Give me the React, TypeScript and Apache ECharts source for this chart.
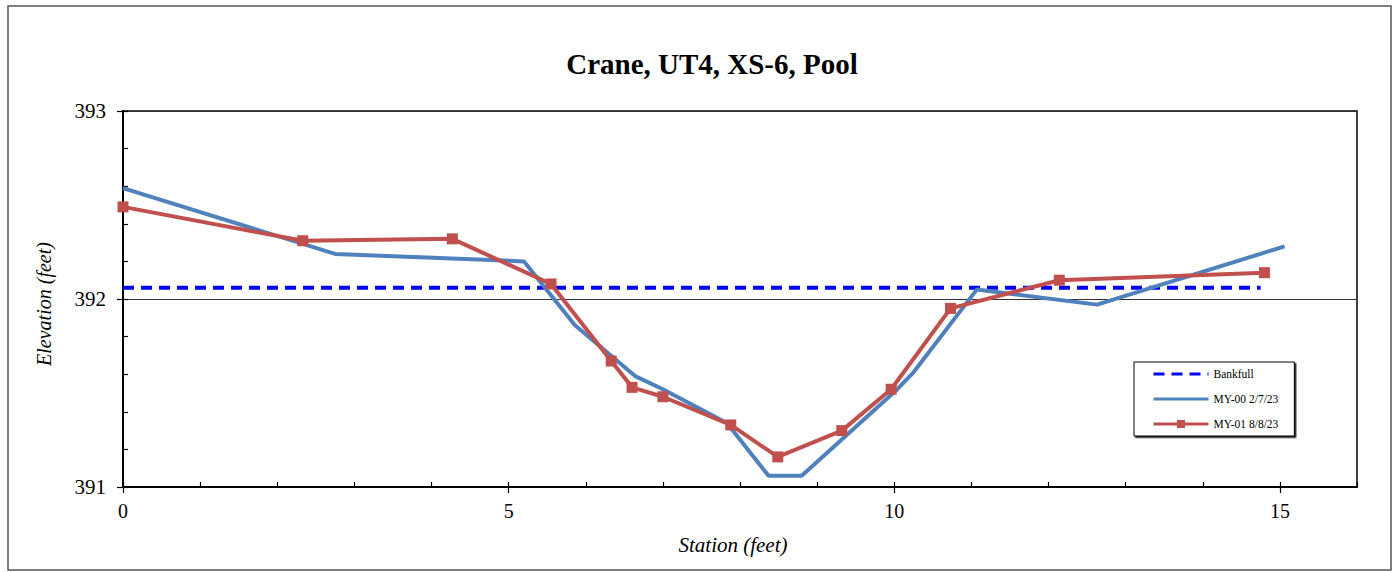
import React, { useEffect, useRef } from "react";
import * as echarts from "echarts";

const titleText = "Crane, UT4, XS-6, Pool";
const xTitle = "Station (feet)";
const yTitle = "Elevation (feet)";

const bankfullStation = [0, 14.75];
const bankfullElev = [392.06, 392.06];

const my00Station = [0, 2.75, 5.2, 5.86, 6.64, 7.0, 7.83, 8.37, 8.8, 10.04, 10.25, 11.07, 12.63, 15.06];
const my00Elev = [392.59, 392.24, 392.2, 391.86, 391.59, 391.52, 391.34, 391.06, 391.06, 391.52, 391.61, 392.05, 391.97, 392.28];

const my01Station = [0, 2.33, 4.27, 5.55, 6.33, 6.6, 7.0, 7.88, 8.49, 9.32, 9.96, 10.73, 12.14, 14.8];
const my01Elev = [392.49, 392.31, 392.32, 392.08, 391.67, 391.53, 391.48, 391.33, 391.16, 391.3, 391.52, 391.95, 392.1, 392.14];

const xMajorTicks = [0, 5, 10, 15];
const seriesNames = ["Bankfull", "MY-00 2/7/23", "MY-01 8/8/23"];

const FONT = "'Liberation Serif', 'Times New Roman', serif";

const zip = (xs: number[], ys: number[]) => xs.map((x, i) => [x, ys[i]]);

export default function App() {
  const ref = useRef<HTMLDivElement>(null);
  useEffect(() => {
    const chart = echarts.init(ref.current!, null, { renderer: "svg" });
    chart.setOption({
      animation: false,
      backgroundColor: "#fff",
      grid: {
        left: 123,
        top: 111,
        width: 1234,
        height: 376,
        show: true,
        borderColor: "#000",
        borderWidth: 1.5,
        backgroundColor: "transparent",
      },
      graphic: [
        {
          type: "rect",
          shape: { x: 8, y: 6, width: 1383, height: 564 },
          style: { fill: "none", stroke: "#555", lineWidth: 1.5 },
          silent: true,
          z: -10,
        },
        {
          type: "text",
          x: 712,
          y: 64,
          style: {
            text: titleText,
            font: `bold 29px ${FONT}`,
            fill: "#000",
            align: "center",
            verticalAlign: "middle",
          },
        },
        {
          type: "text",
          x: 733,
          y: 545,
          style: {
            text: xTitle,
            font: `italic 21px ${FONT}`,
            fill: "#000",
            align: "center",
            verticalAlign: "middle",
          },
        },
        {
          type: "text",
          x: 44,
          y: 304,
          rotation: Math.PI / 2,
          style: {
            text: yTitle,
            font: `italic 20px ${FONT}`,
            fill: "#000",
            align: "center",
            verticalAlign: "middle",
          },
        },
      ],
      legend: {
        orient: "vertical",
        left: 1134,
        top: 362,
        padding: [6, 16, 6, 18],
        itemGap: 13,
        itemWidth: 55,
        itemHeight: 10,
        borderColor: "#000",
        borderWidth: 1,
        backgroundColor: "#fff",
        shadowColor: "rgba(0,0,0,0.85)",
        shadowOffsetX: 1.5,
        shadowOffsetY: 1.5,
        shadowBlur: 0,
        lineStyle: { width: 3 },
        textStyle: { fontFamily: FONT, fontSize: 11.5, color: "#000" },
        data: [
          { name: seriesNames[0], itemStyle: { opacity: 0, color: "rgba(0,0,0,0)", borderWidth: 0 } },
          { name: seriesNames[1], itemStyle: { opacity: 0, color: "rgba(0,0,0,0)", borderWidth: 0 } },
          { name: seriesNames[2] },
        ],
      },
      xAxis: [
        {
          type: "value",
          min: 0,
          max: 16,
          interval: 5,
          axisLine: { show: true, lineStyle: { color: "#000", width: 2 } },
          axisTick: {
            show: true,
            inside: false,
            length: 6,
            customValues: xMajorTicks,
            lineStyle: { color: "#000", width: 1.2 },
          },
          axisLabel: {
            customValues: xMajorTicks,
            fontFamily: FONT,
            fontSize: 20,
            color: "#000",
            margin: 14,
          },
          splitLine: { show: false },
        },
        {
          type: "value",
          min: 0,
          max: 16,
          interval: 1,
          position: "bottom",
          axisLine: { show: false },
          axisTick: { show: true, inside: true, length: 5, lineStyle: { color: "#000", width: 1.2 } },
          axisLabel: { show: false },
          splitLine: { show: false },
        },
      ],
      yAxis: [
        {
          type: "value",
          min: 391,
          max: 393,
          interval: 1,
          axisLine: { show: true, lineStyle: { color: "#000", width: 2 } },
          axisTick: { show: true, inside: false, length: 6, lineStyle: { color: "#000", width: 1.2 } },
          axisLabel: {
            fontFamily: FONT,
            fontSize: 21,
            color: "#000",
            margin: 17,
          },
          splitLine: { show: true, lineStyle: { color: "#333", width: 1 } },
        },
        {
          type: "value",
          min: 391,
          max: 393,
          interval: 0.2,
          position: "left",
          axisLine: { show: false },
          axisTick: { show: true, inside: true, length: 5, lineStyle: { color: "#000", width: 1.2 } },
          axisLabel: { show: false },
          splitLine: { show: false },
        },
      ],
      series: [
        {
          name: seriesNames[0],
          type: "line",
          data: zip(bankfullStation, bankfullElev),
          symbol: "none",
          lineStyle: { color: "#0000FF", width: 4, type: [11, 7] },
          itemStyle: { color: "#0000FF" },
          z: 2,
        },
        {
          name: seriesNames[1],
          type: "line",
          data: zip(my00Station, my00Elev),
          symbol: "none",
          lineStyle: { color: "#4F81BD", width: 4 },
          itemStyle: { color: "#4F81BD" },
          z: 3,
        },
        {
          name: seriesNames[2],
          type: "line",
          data: zip(my01Station, my01Elev),
          symbol: "rect",
          symbolSize: 11,
          showAllSymbol: true,
          lineStyle: { color: "#C0504D", width: 4 },
          itemStyle: { color: "#C0504D" },
          z: 4,
        },
      ],
    });
    return () => chart.dispose();
  }, []);
  return (
    <div
      ref={ref}
      style={{ position: "absolute", left: 0, top: 0, width: 1394, height: 572, background: "#fff" }}
    />
  );
}
